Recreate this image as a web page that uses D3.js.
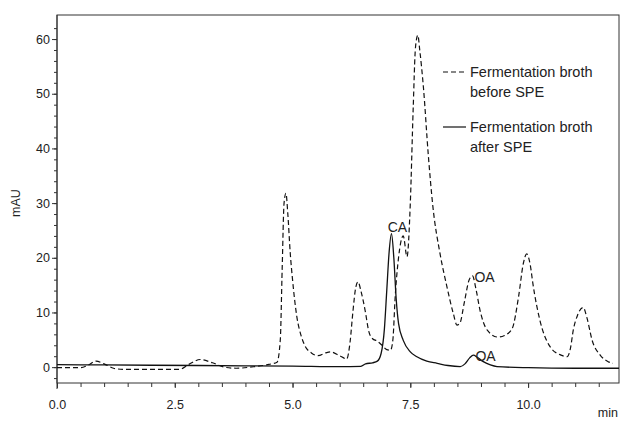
<!DOCTYPE html>
<html>
<head>
<meta charset="utf-8">
<script src="https://cdn.jsdelivr.net/npm/d3@7"></script>
<style>
  body { margin: 0; background: #fff; }
  text { font-family: "Liberation Sans", Arial, sans-serif; fill: #222; }
</style>
</head>
<body>
<div id="chart"></div>
<script>
// retention time (min) and absorbance (mAU)
var beforeTime = [0, 0.5, 0.65, 0.83, 1.0, 1.2, 1.4, 2.0, 2.6, 2.8, 3.04, 3.3, 3.55, 3.8, 4.2, 4.5, 4.67,
  4.74, 4.78, 4.82, 4.86, 4.9, 4.95, 5.0, 5.09, 5.18, 5.27, 5.4, 5.54, 5.7, 5.8, 6.0, 6.15,
  6.22, 6.28, 6.34, 6.39, 6.45, 6.54, 6.62, 6.7, 6.79, 6.9, 7.0, 7.08, 7.13, 7.18, 7.25, 7.35,
  7.43, 7.5, 7.56, 7.61, 7.66, 7.7, 7.78, 7.88, 7.98, 8.13, 8.28, 8.41, 8.49, 8.55, 8.65, 8.75,
  8.82, 8.9, 8.98, 9.13, 9.36, 9.5, 9.66, 9.8, 9.9, 9.97, 10.05, 10.1, 10.25, 10.47, 10.7, 10.83,
  10.9, 10.96, 11.05, 11.17, 11.25, 11.36, 11.53, 11.7, 11.8];
var beforeValue = [-0.1, -0.1, 0.3, 1.1, 0.6, -0.2, -0.4, -0.4, -0.4, 0.5, 1.4, 0.8, 0.0, -0.2, 0.1, 0.5, 0.9,
  5, 18, 30, 31.8, 28, 21, 16, 9.3, 5.8, 3.8, 2.6, 2.1, 2.6, 2.8, 2.1, 1.5,
  4.5, 10, 14.5, 15.6, 14, 10.4, 6.5, 5.2, 4.8, 4.0, 3.2, 3.1, 5, 13, 20, 24,
  20.2, 30, 47, 58.5, 60.7, 58, 51, 39, 29.3, 20.8, 14.6, 9.9, 7.7, 8, 12, 16,
  16.7, 14, 10.4, 6.8, 5.5, 5.8, 7, 13, 19, 20.7, 18.5, 15.4, 8.6, 3.7, 2.2, 1.9,
  3.5, 6.8, 9.5, 10.9, 9, 4.9, 2.2, 1.0, 0.7];

var afterTime = [0, 1, 2, 3, 4, 5, 6, 6.45, 6.55, 6.7, 6.8, 6.88, 6.95, 7.0, 7.05, 7.1, 7.15, 7.2,
  7.25, 7.35, 7.5, 7.64, 7.85, 8.07, 8.3, 8.56, 8.66, 8.76, 8.84, 8.92, 9.05, 9.2, 9.34, 10, 11, 11.93];
var afterValue = [0.45, 0.4, 0.35, 0.3, 0.25, 0.2, 0.1, 0.15, 0.6, 0.8, 1.1, 2.5, 7, 14, 21, 24.4, 20, 12.5,
  8, 4.9, 2.8, 1.9, 1.1, 0.7, 0.3, 0.1, 0.6, 1.7, 2.2, 1.8, 1.0, 0.4, 0.1, -0.1, -0.2, -0.2];

var xTicks = [0, 2.5, 5, 7.5, 10];
var yTicks = [0, 10, 20, 30, 40, 50, 60];
var legendNames = [["Fermentation broth", "before SPE"], ["Fermentation broth", "after SPE"]];
// peak labels: [time, value, text]
var peakLabels = [[7.1, 24.4, "CA"], [8.82, 16.7, "OA"], [8.84, 2.2, "OA"]];

var svgWidth = 620, svgHeight = 421;
var margin = {top: 15, right: 1, bottom: 38, left: 57},
    width = svgWidth - margin.left - margin.right,
    height = svgHeight - margin.top - margin.bottom;

var svg = d3.select("#chart")
  .append("svg")
    .attr("width", svgWidth)
    .attr("height", svgHeight)
  .append("g")
    .attr("transform", "translate(" + margin.left + "," + margin.top + ")");

var x = d3.scaleLinear().domain([0, 11.93]).range([0, width]);
var y = d3.scaleLinear().domain([-2.9, 64.4]).range([height, 0]);

svg.append("defs").append("clipPath").attr("id", "clip")
  .append("rect").attr("width", width).attr("height", height);

// frame
svg.append("rect")
  .attr("width", width).attr("height", height)
  .attr("fill", "none").attr("stroke", "#333").attr("stroke-width", 1);

// x axis: major every 2.5, minor every 0.5
var xAxis = svg.append("g").attr("transform", "translate(0," + height + ")");
xAxis.call(d3.axisBottom(x).tickValues(d3.range(0, 11.93, 0.5)).tickSize(4).tickFormat(""))
  .call(g => g.select(".domain").remove());
xAxis.append("g").call(d3.axisBottom(x).tickValues(xTicks).tickSize(5).tickPadding(12)
    .tickFormat(d3.format(".1f")))
  .call(g => g.select(".domain").remove())
  .selectAll("text").attr("font-size", 12.5).attr("fill", "#222");
xAxis.selectAll("line").attr("stroke", "#333");

// y axis: major every 10, minor every 2
var yAxis = svg.append("g");
yAxis.call(d3.axisLeft(y).tickValues(d3.range(-2, 64, 2)).tickSize(3).tickFormat(""))
  .call(g => g.select(".domain").remove());
yAxis.append("g").call(d3.axisLeft(y).tickValues(yTicks).tickSize(5).tickPadding(2))
  .call(g => g.select(".domain").remove())
  .selectAll("text").attr("font-size", 12.5).attr("fill", "#222");
yAxis.selectAll("line").attr("stroke", "#333");
// y axis line extends slightly below the frame
svg.append("line").attr("x1", 0).attr("x2", 0).attr("y1", 0).attr("y2", height + 6)
  .attr("stroke", "#333");

svg.append("text")
  .attr("transform", "rotate(-90)")
  .attr("x", -y(30)).attr("y", -37)
  .attr("text-anchor", "middle")
  .attr("font-size", 12.5)
  .text("mAU");

svg.append("text")
  .attr("x", width - 1).attr("y", height + 34)
  .attr("text-anchor", "end")
  .attr("font-size", 12.5)
  .text("min");

var line = d3.line()
  .x(d => x(d[0]))
  .y(d => y(d[1]))
  .curve(d3.curveMonotoneX);

var plot = svg.append("g").attr("clip-path", "url(#clip)");

plot.append("path")
  .datum(beforeTime.map((t, i) => [t, beforeValue[i]]))
  .attr("fill", "none")
  .attr("stroke", "#111")
  .attr("stroke-width", 1.2)
  .attr("stroke-dasharray", "5,3")
  .attr("d", line);

plot.append("path")
  .datum(afterTime.map((t, i) => [t, afterValue[i]]))
  .attr("fill", "none")
  .attr("stroke", "#111")
  .attr("stroke-width", 1.3)
  .attr("d", line);

// peak labels
svg.selectAll(".peak")
  .data(peakLabels)
  .join("text")
    .attr("class", "peak")
    .attr("x", (d, i) => x(d[0]) + (i === 0 ? 6 : 2))
    .attr("y", (d, i) => y(d[1]) - (i === 0 ? 2 : -6))
    .attr("text-anchor", (d, i) => i === 0 ? "middle" : "start")
    .attr("font-size", 14)
    .text(d => d[2]);

// legend
var legend = svg.append("g").attr("transform", "translate(" + (443 - margin.left) + "," + (72 - margin.top) + ")");
legendNames.forEach(function(names, i) {
  var g = legend.append("g").attr("transform", "translate(0," + (i * 55) + ")");
  g.append("line")
    .attr("x1", 0).attr("x2", 23).attr("y1", 0).attr("y2", 0)
    .attr("stroke", "#111").attr("stroke-width", 1.2)
    .attr("stroke-dasharray", i === 0 ? "5,3" : null);
  g.append("text").attr("x", 27).attr("y", 5).attr("font-size", 14.5).text(names[0]);
  g.append("text").attr("x", 27).attr("y", 25).attr("font-size", 14.5).text(names[1]);
});
</script>
</body>
</html>
